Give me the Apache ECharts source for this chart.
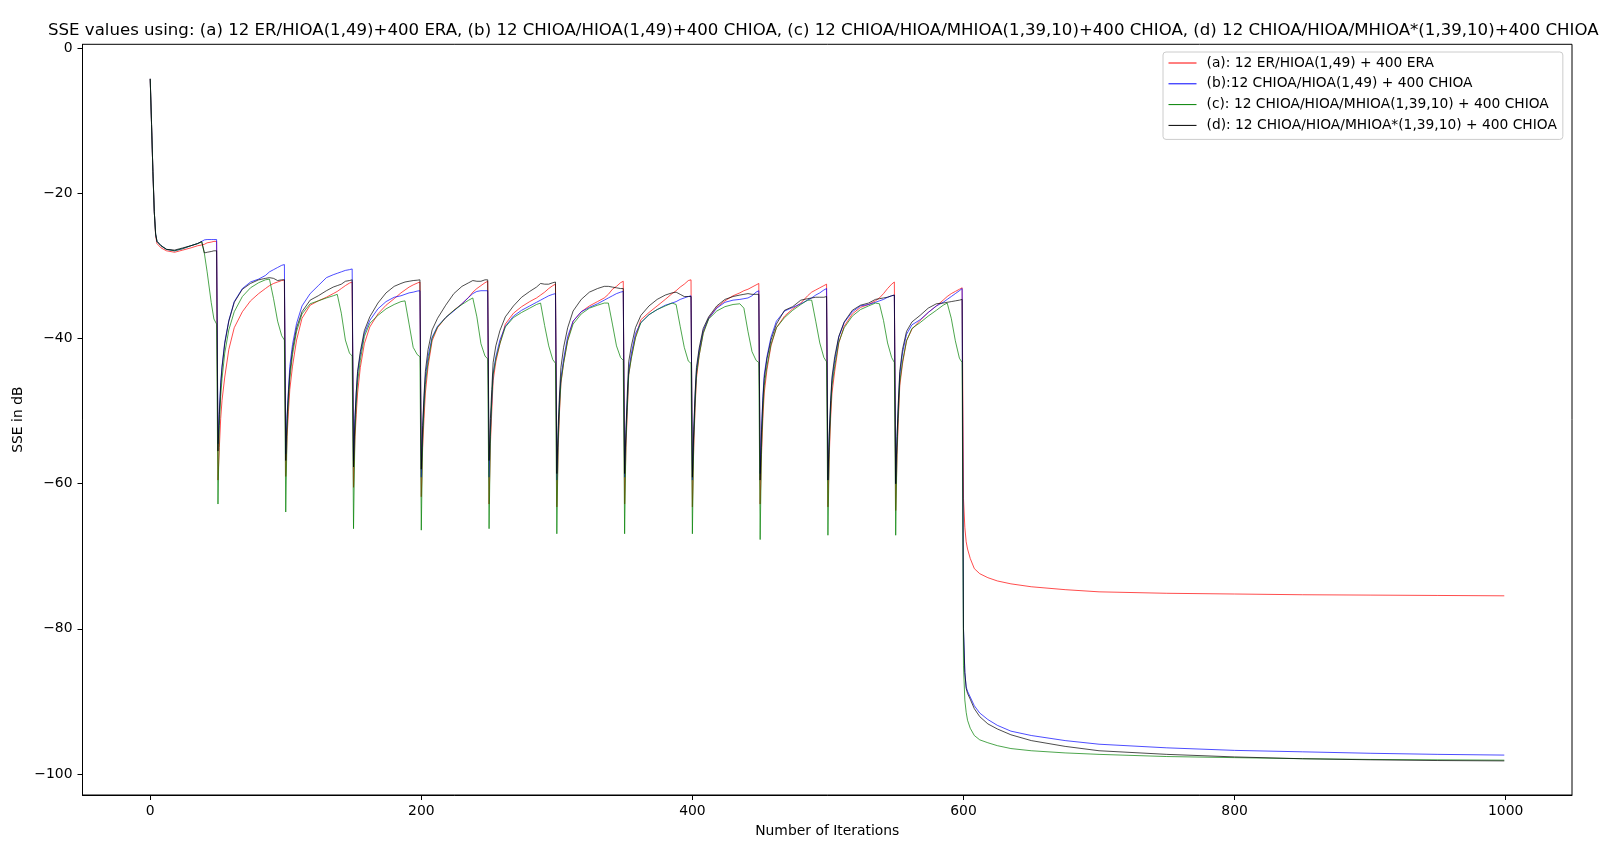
<!DOCTYPE html>
<html>
<head>
<meta charset="utf-8">
<title>SSE values</title>
<script src="https://cdn.jsdelivr.net/npm/echarts@6/dist/echarts.min.js"></script>
<style>
  html, body { margin: 0; padding: 0; background: #fff; }
  #main { width: 1611px; height: 845px; }
</style>
</head>
<body>
<div id="main"></div>
<script>
var iters = [
  0, 1, 2, 3, 4, 5, 8, 12, 18, 24, 30, 35, 38, 40, 42, 45, 47, 49,
  50, 51, 52, 53, 55, 58, 62, 68, 74, 80, 85, 88, 91, 94, 97, 99,
  100, 101, 102, 103, 105, 108, 112, 118, 124, 130, 135, 138, 141, 144, 147, 149,
  150, 151, 152, 153, 155, 158, 162, 168, 174, 180, 185, 188, 191, 194, 197, 199,
  200, 201, 202, 203, 205, 208, 212, 218, 224, 230, 235, 238, 241, 244, 247, 249,
  250, 251, 252, 253, 255, 258, 262, 268, 274, 280, 285, 288, 291, 294, 297, 299,
  300, 301, 302, 303, 305, 308, 312, 318, 324, 330, 335, 338, 341, 344, 347, 349,
  350, 351, 352, 353, 355, 358, 362, 368, 374, 380, 385, 388, 391, 394, 397, 399,
  400, 401, 402, 403, 405, 408, 412, 418, 424, 430, 435, 438, 441, 444, 447, 449,
  450, 451, 452, 453, 455, 458, 462, 468, 474, 480, 485, 488, 491, 494, 497, 499,
  500, 501, 502, 503, 505, 508, 512, 518, 524, 530, 535, 538, 541, 544, 547, 549,
  550, 551, 552, 553, 555, 558, 562, 568, 574, 580, 585, 588, 591, 594, 597, 599,
  600, 601, 602, 603, 605, 608, 612, 618, 625, 635, 650, 675, 700, 750, 800, 850, 900, 950, 999
];

// (a) 12 ER/HIOA(1,49) + 400 ERA
var sseA = [
  -4.2, -10.5, -17, -22.5, -25.8, -26.9, -27.5, -27.9, -28.1, -27.8, -27.5, -27.2, -27.1, -27.0, -26.8, -26.7, -26.6, -26.6,
  -59.5, -55, -51, -48.5, -45.3, -41.5, -38.5, -36.3, -34.8, -33.8, -33.1, -32.7, -32.4, -32.2, -32, -31.9,
  -59, -53.5, -50, -47, -43.8, -40.2, -37.2, -35.4, -34.8, -34.3, -33.8, -33.5, -33.1, -32.7, -32.35, -32.2,
  -60.5, -54, -50.5, -47.5, -44, -40.7, -38.4, -36.6, -35.4, -34.5, -33.7, -33.3, -32.9, -32.6, -32.35, -32.2,
  -61.8, -55, -51, -47.5, -43.8, -40.3, -38.5, -37.1, -36.1, -35.2, -34.3, -33.6, -33.1, -32.7, -32.3, -32.1,
  -62.8, -54.5, -50, -45.8, -43.2, -40.7, -38, -36.5, -35.6, -34.9, -34.4, -34, -33.6, -33.1, -32.7, -32.5,
  -63.2, -55, -50, -46.2, -43.3, -40.2, -37.6, -36.3, -35.5, -34.9, -34.4, -33.9, -33.2, -32.8, -32.3, -32.1,
  -62.8, -55, -50, -45, -42.5, -39.8, -37.4, -36.4, -35.5, -34.6, -33.8, -33.4, -32.9, -32.5, -32, -31.9,
  -63.2, -55, -49.5, -45.5, -42.3, -39.2, -37.2, -35.7, -34.8, -34.1, -33.7, -33.4, -33.2, -32.9, -32.6, -32.4,
  -62.8, -56, -51, -47.5, -44.3, -41, -38.5, -36.9, -35.9, -35.1, -34.1, -33.6, -33.3, -33, -32.7, -32.5,
  -63.2, -56, -51, -47.5, -44.5, -40.6, -38.3, -36.6, -35.7, -35.3, -34.8, -34.4, -33.8, -33.1, -32.5, -32.2,
  -63.7, -56, -51, -46.5, -43.5, -40.3, -38.7, -37.5, -36.4, -35.5, -34.7, -34.2, -33.8, -33.5, -33.2, -33,
  -62, -66, -68, -69, -70.3, -71.7, -72.4, -72.95, -73.4, -73.8, -74.2, -74.6, -74.9, -75.1, -75.2, -75.3, -75.35, -75.4, -75.45
];

// (b) 12 CHIOA/HIOA(1,49) + 400 CHIOA
var sseB = [
  -4.2, -10.5, -17, -22.5, -25.6, -26.6, -27.2, -27.7, -27.9, -27.6, -27.2, -26.9, -26.6, -26.4, -26.35, -26.35, -26.35, -26.35,
  -54.5, -50, -46, -43.8, -40.5, -37.5, -34.9, -33.1, -32.2, -31.8, -31.3, -30.8, -30.5, -30.2, -29.9, -29.8,
  -55.9, -50.5, -47, -43.8, -40.8, -37.9, -35.5, -33.8, -32.7, -31.6, -31.2, -31.0, -30.8, -30.6, -30.5, -30.4,
  -56.8, -51, -47.5, -44.8, -42.2, -39.3, -37.5, -35.9, -34.9, -34.3, -34.1, -33.9, -33.7, -33.6, -33.45, -33.4,
  -59.1, -52.5, -48.5, -45.3, -42.5, -39.8, -38.3, -37.1, -36.2, -35.2, -34.3, -33.8, -33.5, -33.4, -33.4, -33.4,
  -59.1, -52.5, -48.5, -44.8, -42.5, -40.2, -38.3, -36.9, -36.1, -35.5, -35, -34.7, -34.4, -34.1, -33.9, -33.8,
  -59.5, -53, -48.5, -45.5, -42.8, -39.7, -37.6, -36.3, -35.7, -35.2, -34.7, -34.4, -34.1, -33.8, -33.6, -33.5,
  -59.1, -53, -48.5, -44.5, -42, -39.3, -37.8, -36.7, -36, -35.4, -35.1, -34.9, -34.6, -34.4, -34.2, -34.1,
  -59.5, -53, -48, -44.5, -41.7, -38.9, -37.2, -35.8, -35, -34.7, -34.6, -34.5, -34.4, -34.1, -33.6, -33.4,
  -58.6, -52.5, -48, -45, -42.5, -39.8, -37.6, -36.2, -35.7, -35.2, -34.7, -34.4, -34, -33.7, -33.3, -33.1,
  -59.5, -53.5, -49, -45.8, -43, -39.8, -37.8, -36.3, -35.5, -35.3, -35, -34.8, -34.6, -34.3, -34.1, -34,
  -60, -53.5, -49, -45, -42, -39.4, -38.1, -37.4, -36.4, -35.5, -35, -34.6, -34.2, -33.8, -33.4, -33.1,
  -80, -86, -88, -88.6, -89.4, -90.6, -91.6, -92.5, -93.3, -94.1, -94.7, -95.4, -95.9, -96.4, -96.75, -96.95, -97.15, -97.3, -97.4
];

// (c) 12 CHIOA/HIOA/MHIOA(1,39,10) + 400 CHIOA
var sseC = [
  -4.2, -10.5, -17, -22.5, -25.6, -26.6, -27.2, -27.7, -27.9, -27.6, -27.2, -26.9, -26.7, -28.3, -30.8, -35, -37.3, -38,
  -62.8, -52, -48, -45.5, -42, -38.8, -36.3, -34.2, -33, -32.3, -31.9, -31.8, -34.5, -37.6, -39.6, -40.2,
  -63.9, -52.5, -48.5, -45.6, -42.2, -39, -36.6, -35.2, -34.8, -34.4, -34.1, -33.9, -36.5, -40.2, -42, -42.4,
  -66.2, -53.5, -49, -46, -43, -39.7, -37.9, -36.8, -35.9, -35.3, -34.9, -34.8, -38, -41.2, -42.2, -42.5,
  -66.4, -54, -49.5, -46.3, -43.2, -40, -38.4, -37.1, -36.1, -35.3, -34.7, -34.4, -37, -40.7, -42.4, -42.8,
  -66.2, -53.5, -48.5, -45, -42.8, -40.7, -38.4, -37.1, -36.4, -35.8, -35.3, -35.1, -38.2, -41, -42.9, -43.4,
  -66.9, -54, -49.5, -46, -43.4, -40.3, -38, -36.6, -35.8, -35.4, -35.1, -35.1, -38, -41, -42.6, -43,
  -66.9, -54, -49.5, -45, -42.7, -39.9, -37.8, -36.7, -36, -35.5, -35.1, -35.3, -38.3, -41.2, -43.1, -43.4,
  -66.9, -54, -49, -45, -42.3, -39.3, -37.3, -36.2, -35.6, -35.3, -35.2, -35.8, -39, -41.8, -43, -43.3,
  -67.7, -55, -50, -46.5, -43.8, -40.8, -38.5, -37.1, -36.1, -35.3, -34.7, -34.7, -37.6, -40.6, -42.6, -43.2,
  -67.1, -55, -50, -46.5, -43.8, -40.5, -38.5, -36.9, -36, -35.5, -35.1, -35.2, -37.5, -40.6, -42.6, -43.3,
  -67.1, -55, -50, -46, -43.2, -40.3, -38.6, -37.8, -36.9, -36.1, -35.4, -35.1, -37.2, -40.3, -42.7, -43.3,
  -85, -89.8, -91.5, -92.6, -93.7, -94.7, -95.3, -95.7, -96.1, -96.5, -96.8, -97.1, -97.3, -97.6, -97.75, -97.9, -98, -98.05, -98.1
];

// (d) 12 CHIOA/HIOA/MHIOA*(1,39,10) + 400 CHIOA
var sseD = [
  -4.2, -10.5, -17, -22.5, -25.6, -26.6, -27.2, -27.7, -27.8, -27.5, -27.2, -26.9, -26.6, -28.2, -28.1, -28.0, -27.9, -27.9,
  -55.5, -50.5, -46.5, -44, -40.7, -37.6, -35, -33.2, -32.4, -31.9, -31.7, -31.6, -31.7, -32, -31.9, -31.9,
  -56.8, -51, -47.5, -44.7, -41.5, -38.5, -36.3, -34.7, -34.1, -33.4, -32.9, -32.7, -32.5, -32.1, -32, -31.9,
  -57.7, -51.5, -47.5, -44.5, -41.8, -38.9, -37, -35.1, -33.7, -32.8, -32.4, -32.2, -32.1, -32, -31.95, -31.9,
  -58, -52, -47.8, -44.5, -41.5, -38.8, -37.2, -35.4, -33.8, -32.8, -32.3, -32, -32.1, -32.1, -31.9, -31.9,
  -56.8, -51, -47, -43.3, -41, -38.9, -37, -35.5, -34.3, -33.5, -32.9, -32.4, -32.5, -32.5, -32.3, -32.2,
  -58.6, -52, -47.5, -44, -41.2, -38.5, -36.2, -34.6, -33.6, -33.1, -32.8, -32.8, -32.9, -33, -33.1, -33.1,
  -58.6, -52.5, -47.5, -43.2, -41, -38.5, -36.8, -35.5, -34.6, -34, -33.7, -33.6, -33.9, -34.2, -34.2, -34.2,
  -59.1, -52.5, -47.5, -44, -41.3, -38.6, -37, -35.5, -34.6, -34.2, -34, -33.9, -33.8, -33.9, -33.9, -33.9,
  -59.5, -53, -48.5, -45.5, -42.8, -40.2, -38, -36.1, -35.6, -34.7, -34.5, -34.4, -34.3, -34.3, -34.3, -34.2,
  -59.5, -53, -48.5, -45.3, -42.5, -39.7, -37.7, -36.1, -35.4, -35.1, -34.6, -34.5, -34.4, -34.3, -34.1, -34.0,
  -60, -53.5, -48.5, -44.5, -41.5, -39, -37.7, -36.8, -35.8, -35.2, -35.1, -35, -34.9, -34.8, -34.7, -34.6,
  -80, -86, -88.2, -88.9, -89.7, -91, -92.1, -93.1, -93.8, -94.6, -95.4, -96.2, -96.8, -97.3, -97.65, -97.9, -98.05, -98.15, -98.2
];

var seriesNames = [
  '(a): 12 ER/HIOA(1,49) + 400 ERA',
  '(b):12 CHIOA/HIOA(1,49) + 400 CHIOA',
  '(c): 12 CHIOA/HIOA/MHIOA(1,39,10) + 400 CHIOA',
  '(d): 12 CHIOA/HIOA/MHIOA*(1,39,10) + 400 CHIOA'
];
var seriesColors = ['#ff0000', '#0000ff', '#008000', '#000000'];

var xTicks = [0, 200, 400, 600, 800, 1000];
var yTicks = [-100, -80, -60, -40, -20, 0];
var yTickLabels = ['\u2212100', '\u221280', '\u221260', '\u221240', '\u221220', '0'];

var FONT = 'DejaVu Sans';

function pairs(vals) {
    return iters.map(function (it, i) { return [it, vals[i]]; });
}

var myChart = echarts.init(document.getElementById('main'));

var allVals = [sseA, sseB, sseC, sseD];

var option = {
    animation: false,
    backgroundColor: '#fff',
    textStyle: { fontFamily: FONT },
    title: {
        text: 'SSE values using: (a) 12 ER/HIOA(1,49)+400 ERA, (b) 12 CHIOA/HIOA(1,49)+400 CHIOA, (c) 12 CHIOA/HIOA/MHIOA(1,39,10)+400 CHIOA, (d) 12 CHIOA/HIOA/MHIOA*(1,39,10)+400 CHIOA',
        left: 48,
        top: 22,
        padding: 0,
        textStyle: { fontFamily: FONT, fontSize: 16.6, fontWeight: 'normal', color: '#000' }
    },
    legend: {
        orient: 'vertical',
        left: 1163,
        top: 52,
        padding: [4, 6, 7, 5],
        itemWidth: 28,
        itemHeight: 14,
        itemGap: 6.8,
        backgroundColor: '#fff',
        borderColor: '#cccccc',
        borderWidth: 1,
        borderRadius: 3,
        // line-only legend keys, no marker
        itemStyle: { opacity: 0, borderWidth: 0 },
        lineStyle: { width: 1 },
        textStyle: { fontFamily: FONT, fontSize: 13.8, color: '#000', padding: [0, 0, 0, 5] },
        data: seriesNames
    },
    grid: {
        left: 82.5,
        right: 39,
        top: 44.3,
        bottom: 50,
        show: true,
        borderColor: '#000',
        borderWidth: 1,
        backgroundColor: 'transparent'
    },
    xAxis: {
        type: 'value',
        min: -49.95,
        max: 1048.95,
        name: 'Number of Iterations',
        nameLocation: 'middle',
        nameGap: 29,
        nameMoveOverlap: false,
        nameTextStyle: { fontFamily: FONT, fontSize: 13.9, color: '#000' },
        axisLine: { show: true, onZero: false, lineStyle: { color: '#000', width: 1 } },
        axisTick: { show: true, inside: false, length: 5, customValues: xTicks, lineStyle: { color: '#000', width: 1 } },
        axisLabel: {
            show: true, margin: 9, customValues: xTicks,
            fontFamily: FONT, fontSize: 13.9, color: '#000',
            formatter: function (v) { return String(v); }
        },
        splitLine: { show: false }
    },
    yAxis: {
        type: 'value',
        min: -102.9,
        max: 0.56,
        name: 'SSE in dB',
        nameLocation: 'middle',
        nameGap: 57,
        nameMoveOverlap: false,
        nameTextStyle: { fontFamily: FONT, fontSize: 13.9, color: '#000' },
        axisLine: { show: true, onZero: false, lineStyle: { color: '#000', width: 1 } },
        axisTick: { show: true, inside: false, length: 5, customValues: yTicks, lineStyle: { color: '#000', width: 1 } },
        axisLabel: {
            show: true, margin: 10, customValues: yTicks,
            fontFamily: FONT, fontSize: 13.9, color: '#000',
            formatter: function (v) {
                var k = yTicks.indexOf(Math.round(v));
                return k >= 0 ? yTickLabels[k] : '';
            }
        },
        splitLine: { show: false }
    },
    series: seriesNames.map(function (name, k) {
        return {
            name: name,
            type: 'line',
            data: pairs(allVals[k]),
            symbol: 'none',
            showSymbol: false,
            smooth: false,
            color: seriesColors[k],
            lineStyle: { color: seriesColors[k], width: 0.7 },
            z: 2 + k
        };
    })
};

myChart.setOption(option);

window.onresize = function () {
    myChart.resize();
};
</script>
</body>
</html>
